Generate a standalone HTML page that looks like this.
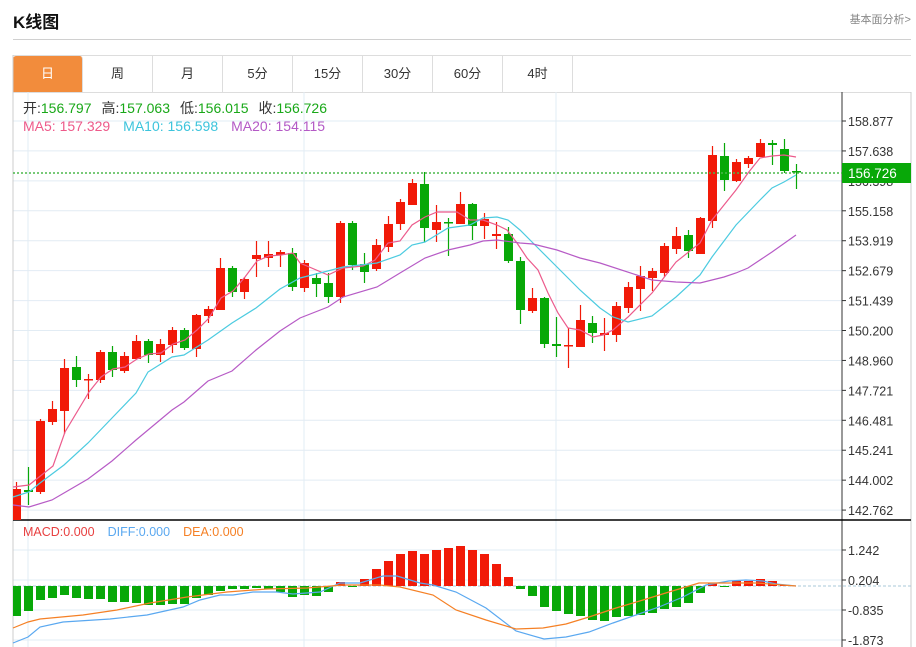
<!DOCTYPE html>
<html><head><meta charset="utf-8"><style>
body{margin:0;background:#fff;width:916px;height:647px;overflow:hidden;font-family:"Liberation Sans","Noto Sans CJK SC",sans-serif;position:relative}
.t{position:absolute;left:13px;top:8px;font-size:17px;font-weight:bold;color:#111}
.r{position:absolute;right:5px;top:11px;font-size:11px;color:#888}
.hr{position:absolute;left:13px;top:39px;width:898px;height:1px;background:#d0d0d0}
.tabs{position:absolute;left:13px;top:55px;height:36px;width:898px;border-top:1px solid #ddd;border-bottom:1px solid #ddd;display:flex}
.tabs div{box-sizing:border-box;width:70px;border-right:1px solid #ddd;text-align:center;line-height:36px;font-size:13px;color:#333}
.tabs .a{background:#f28c3c;color:#fff;border-radius:3px 3px 0 0}
svg{position:absolute;left:0;top:0}
</style></head><body>
<div class="t">K线图</div><div class="r">基本面分析&gt;</div><div class="hr"></div>
<div class="tabs"><div class="a">日</div><div>周</div><div>月</div><div>5分</div><div>15分</div><div>30分</div><div>60分</div><div>4时</div></div>
<svg id="s" width="916" height="647" xmlns="http://www.w3.org/2000/svg" font-family="Liberation Sans, Noto Sans CJK SC, sans-serif"></svg>
<script>
var s='';
function L(x1,y1,x2,y2,c,w,d){s+='<line x1="'+x1+'" y1="'+y1+'" x2="'+x2+'" y2="'+y2+'" stroke="'+c+'" stroke-width="'+(w||1)+'"'+(d?' stroke-dasharray="'+d+'"':'')+'/>';}
function T(x,y,t,c,sz,a){s+='<text x="'+x+'" y="'+y+'" fill="'+c+'" font-size="'+(sz||12)+'"'+(a?' text-anchor="'+a+'"':'')+'>'+t+'</text>';}
var pt=[158.877,157.638,156.398,155.158,153.919,152.679,151.439,150.200,148.960,147.721,146.481,145.241,144.002,142.762];
for(var i=0;i<14;i++){var y=121+i*29.93;L(13,y,842,y,'#e2ecf4');}
[550,580,610,640].forEach(function(y){L(13,y,842,y,'#e2ecf4');});
[28,304,556].forEach(function(x){L(x,92,x,647,'#e2ecf4');});
L(13,55,13,647,'#ccc');L(911,92,911,647,'#ccc');L(842,92,842,647,'#333');
L(13,520,911,520,'#000',1.5);
for(var i=0;i<14;i++){var y=121+i*29.93;L(842,y,846,y,'#333');T(848,y+5,pt[i].toFixed(3),'#333',12.5);}
[[550,'1.242'],[580,'0.204'],[610,'-0.835'],[640,'-1.873']].forEach(function(a){L(842,a[0],846,a[0],'#333');T(848,a[0]+5,a[1],'#333',12.5);});
var C=[[489,520,482,520,1],[490,492,467,505,0],[421,492,419,494,1],[409,422,401,425,1],[368,411,359,434,1],[367,380,356,387,0],[379,380,374,399,1],[352,380,350,383,1],[352,370,346,377,0],[356,371,352,373,1],[341,359,335,359,1],[341,355,339,363,0],[344,355,339,362,1],[330,345,327,353,1],[330,348,328,350,0],[315,349,314,357,1],[309,316,306,323,1],[268,310,258,310,1],[268,292,266,297,0],[279,292,277,299,1],[255,259,241,277,1],[254,258,241,267,1],[252,255,250,267,1],[253,287,248,291,0],[263,288,260,292,1],[278,284,273,297,0],[283,297,273,303,0],[223,297,221,303,1],[223,265,221,270,0],[264,272,253,283,0],[245,269,239,271,1],[224,247,216,252,1],[202,224,199,230,1],[183,205,179,205,1],[184,228,172,242,0],[222,230,205,242,1],[222,223,218,256,0],[204,224,192,224,1],[204,226,203,240,0],[219,226,213,239,1],[234,236,222,249,1],[234,261,227,263,0],[261,310,257,324,0],[298,311,288,313,1],[298,344,297,348,0],[344,346,317,357,0],[345,346,328,368,1],[320,347,305,347,1],[323,333,316,343,0],[333,335,318,351,1],[306,335,302,342,1],[287,308,282,313,1],[276,289,266,311,1],[271,278,268,291,1],[246,273,243,277,1],[236,249,227,254,1],[235,251,230,258,0],[218,254,217,254,1],[155,221,146,228,1],[156,180,143,191,0],[162,181,159,182,1],[158,164,156,168,1],[143,157,139,157,1],[143,145,140,165,0],[149,171,139,173,0],[171,172,164,189,0]];
var R='#f11a08',G='#08a808';
C.forEach(function(c,i){var x=16.5+12*i,col=c[4]?R:G;L(x,c[2],x,c[3],col,1.2);var h=Math.max(c[1]-c[0],1.5);var l=Math.max(x-4.5,13);s+='<rect x="'+l+'" y="'+c[0]+'" width="'+(x+4.5-l)+'" height="'+h+'" fill="'+col+'"/>';});
function P(p,c){s+='<polyline fill="none" stroke="'+c+'" stroke-width="1.2" points="'+p+'"/>';}
P('13,487 29,485 53,466 65,432 89,392 101,377 113,369 125,367 137,359 149,354 161,353 173,344 185,340 197,330 209,318 221,298 233,291 245,277 257,261 269,256 281,255 293,253 300,263 328,275 343,268 363,266 375,260 388,243 400,241 412,225 425,217 437,212 457,212 470,220 483,220 497,225 507,230 517,243 527,258 538,270 548,293 558,313 568,328 580,330 593,337 603,335 613,330 628,317 652,293 676,262 700,243 712,220 724,205 736,190 748,173 760,158 772,156 784,155 796,157','#ec5b8c');
P('13,497 29,492 40,483 64,465 88,443 112,418 136,393 148,372 172,357 184,355 208,340 232,323 256,308 280,289 300,278 320,273 343,267 377,263 400,255 412,245 425,242 448,228 470,225 483,218 497,217 508,220 520,230 533,243 557,267 580,290 600,308 613,317 628,322 652,316 676,297 700,275 712,257 736,225 760,200 772,188 784,182 796,175','#4ccbe0');
P('13,505 29,507 52,500 64,493 88,479 112,461 136,440 172,410 184,402 208,381 232,371 256,350 280,331 300,318 328,307 343,297 377,287 400,273 425,258 448,250 470,245 483,241 497,240 520,243 533,244 557,250 580,258 600,263 652,280 676,282 700,283 724,277 736,273 748,268 772,252 796,235','#b75bc6');
L(13,173,842,173,'#4cb84c',1.5,'2,2');
s+='<rect x="842" y="163" width="69" height="20" fill="#08a808"/>';T(848,178,'156.726','#fff',13.5);
var M=[616,611,600,598,595,598,599,599,602,602,603,605,605,604,604,598,595,591,589,589,588,589,592,597,595,596,592,582,587,579,569,561,554,551,554,550,548,546,550,554,564,577,589,596,607,611,614,616,620,621,617,616,615,613,609,607,603,593,583,587,581,581,579,581,585,586];
var Z=586;L(13,Z,911,Z,'#aac8d8',1,'3,2');
M.forEach(function(y,i){var x=16.5+12*i,l=Math.max(x-4.5,13);var col=y>Z?G:R;var t=Math.min(y,Z),h=Math.abs(y-Z);if(h<0.5)return;s+='<rect x="'+l+'" y="'+t+'" width="'+(x+4.5-l)+'" height="'+h+'" fill="'+col+'"/>';});
P('13,643 28,637 40,627 63,622 110,619 147,615 183,607 200,600 220,595 233,595 253,592 277,592 293,594 320,592 340,583 360,583 383,576 397,576 420,583 433,585 456,592 486,608 516,631 544,639 566,637 589,632 613,623 636,615 659,607 683,597 706,585 729,581 746,580 763,581 776,584 796,586','#5aa8f0');
P('13,628 28,622 40,619 83,615 117,610 150,603 187,597 227,592 267,589 307,588 343,585 380,585 400,587 433,595 456,610 486,620 516,629 543,628 566,624 589,617 616,608 643,600 669,592 699,583 723,583 756,583 796,586','#f58025');
s+='<text x="23" y="113" font-size="14"><tspan fill="#333">开:</tspan><tspan fill="#19a818">156.797</tspan><tspan fill="#333" dx="10">高:</tspan><tspan fill="#19a818">157.063</tspan><tspan fill="#333" dx="10">低:</tspan><tspan fill="#19a818">156.015</tspan><tspan fill="#333" dx="10">收:</tspan><tspan fill="#19a818">156.726</tspan></text>';
s+='<text x="23" y="131" font-size="14"><tspan fill="#ee5a8a">MA5: 157.329</tspan><tspan fill="#3cc4dc" dx="13">MA10: 156.598</tspan><tspan fill="#b45ac6" dx="13">MA20: 154.115</tspan></text>';
s+='<text x="23" y="536" font-size="12.5"><tspan fill="#e84040">MACD:0.000</tspan><tspan fill="#5aa8f0" dx="13">DIFF:0.000</tspan><tspan fill="#f58025" dx="13">DEA:0.000</tspan></text>';
document.getElementById('s').innerHTML=s;
</script>
</body></html>
